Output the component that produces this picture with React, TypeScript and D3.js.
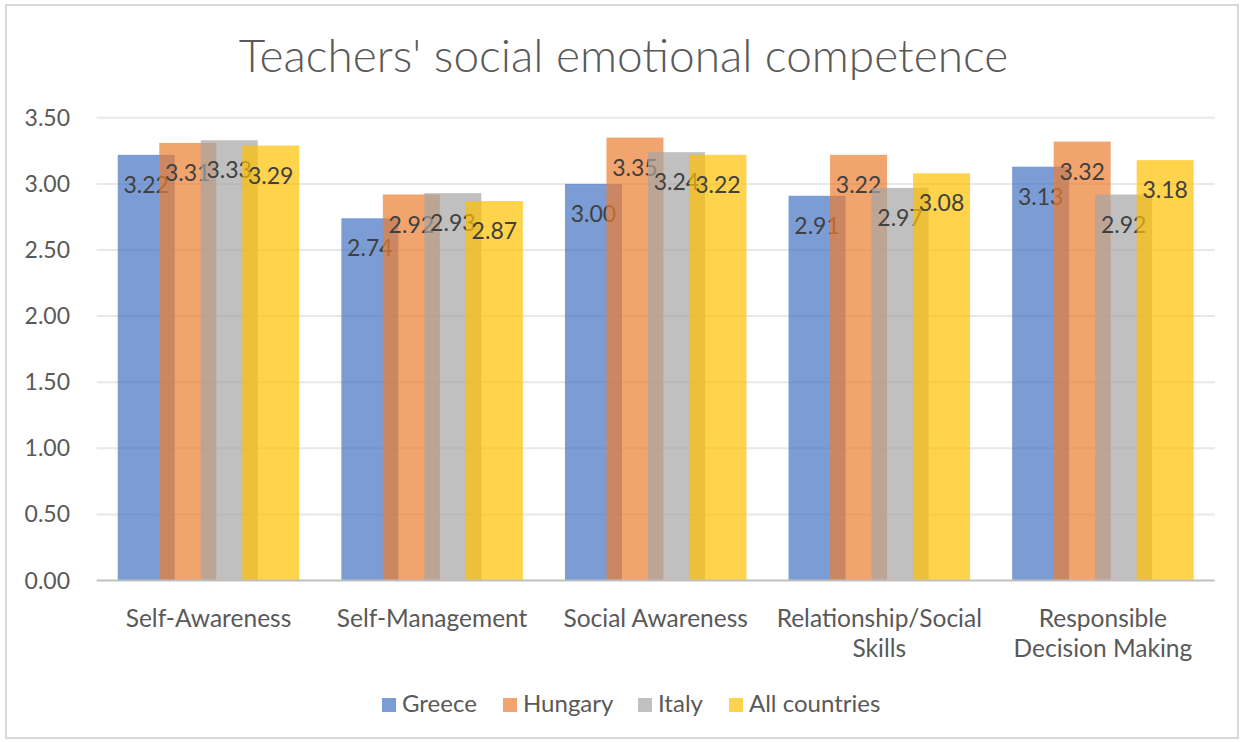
import React from "react";
import * as d3 from "d3";

const categories: string[][] = [
  ["Self-Awareness"],
  ["Self-Management"],
  ["Social Awareness"],
  ["Relationship/Social", "Skills"],
  ["Responsible", "Decision Making"],
];
const seriesNames = ["Greece", "Hungary", "Italy", "All countries"];
const greece = [3.22, 2.74, 3.0, 2.91, 3.13];
const hungary = [3.31, 2.92, 3.35, 3.22, 3.32];
const italy = [3.33, 2.93, 3.24, 2.97, 2.92];
const allCountries = [3.29, 2.87, 3.22, 3.08, 3.18];
const seriesValues = [greece, hungary, italy, allCountries];
const colors = ["#4472C4", "#ED7D31", "#A5A5A5", "#FFC000"];
const yTicks = [0, 0.5, 1, 1.5, 2, 2.5, 3, 3.5];

const W = 1243;
const H = 742;
const FONT = "Lato, 'Open Sans', sans-serif";

export default function App() {
  const plotL = 96.7;
  const plotR = 1214.7;
  const y = d3.scaleLinear().domain([0, 3.5]).range([580.5, 117.8]);
  const x = d3
    .scaleBand<number>()
    .domain(d3.range(categories.length))
    .range([plotL, plotR])
    .paddingInner(0)
    .paddingOuter(0);
  const band = x.bandwidth();
  const barW = 57;
  const step = 41.5;
  const groupW = step * 3 + barW;
  const legendX = [382, 503, 638, 729];

  return (
    <div style={{ position: "absolute", left: 0, top: 0 }}>
      <svg width={W} height={H} style={{ display: "block", background: "#fff" }}>
        <rect x={6} y={5} width={1232} height={733} fill="#fff" stroke="#d9d9d9" strokeWidth={2} />
        <text
          x={623.5}
          y={72}
          textAnchor="middle"
          fontFamily={FONT}
          fontWeight={300}
          fontSize={46}
          fill="#595959"
        >
          Teachers' social emotional competence
        </text>
        {yTicks.map((t) => (
          <g key={t}>
            {t > 0 && (
              <line x1={plotL} x2={plotR} y1={y(t)} y2={y(t)} stroke="#e8e8e8" strokeWidth={2} />
            )}
            <text
              x={70}
              y={y(t)}
              dy="0.35em"
              textAnchor="end"
              fontFamily={FONT}
              fontSize={23}
              fill="#595959"
            >
              {t.toFixed(2)}
            </text>
          </g>
        ))}
        {seriesValues.map((vals, si) => (
          <g key={si}>
            {vals.map((v, ci) => {
              const x0 = (x(ci) as number) + (band - groupW) / 2 + si * step;
              return (
                <g key={ci}>
                  <rect
                    x={x0}
                    y={y(v)}
                    width={barW}
                    height={y(0) - y(v)}
                    fill={colors[si]}
                    fillOpacity={0.7}
                  />
                  <text
                    x={x0 + barW / 2}
                    y={y(v) + 30}
                    dy="0.35em"
                    textAnchor="middle"
                    fontFamily={FONT}
                    fontSize={23}
                    fill="#404040"
                  >
                    {v.toFixed(2)}
                  </text>
                </g>
              );
            })}
          </g>
        ))}
        <line x1={plotL} x2={plotR} y1={y(0)} y2={y(0)} stroke="#bfbfbf" strokeWidth={2} />
        {categories.map((lines, ci) => (
          <text
            key={ci}
            x={(x(ci) as number) + band / 2}
            textAnchor="middle"
            fontFamily={FONT}
            fontSize={24.5}
            fill="#595959"
          >
            {lines.map((l, li) => (
              <tspan key={li} x={(x(ci) as number) + band / 2} y={627 + li * 30}>
                {l}
              </tspan>
            ))}
          </text>
        ))}
        {seriesNames.map((n, i) => {
          const lx = legendX[i];
          return (
            <g key={n}>
              <rect x={lx} y={698} width={14} height={14} fill={colors[i]} fillOpacity={0.7} />
              <text x={lx + 20} y={704} dy="0.35em" fontFamily={FONT} fontSize={24} fill="#595959">
                {n}
              </text>
            </g>
          );
        })}
      </svg>
    </div>
  );
}
